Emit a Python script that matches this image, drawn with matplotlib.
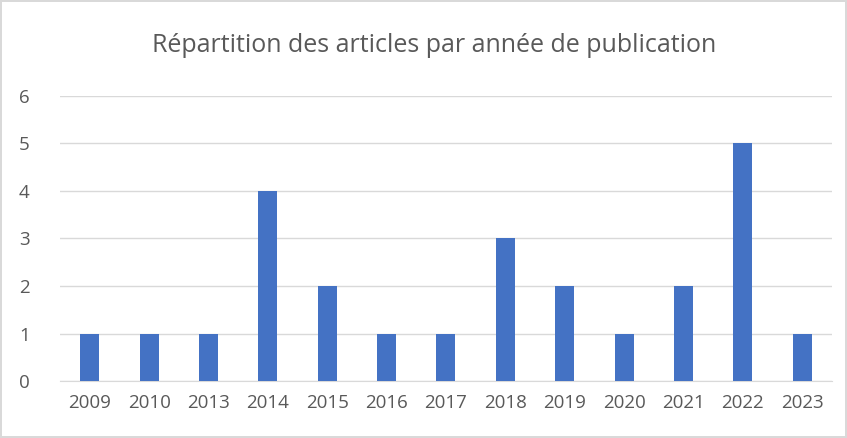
import matplotlib.pyplot as plt
import numpy as np

years = ['2009', '2010', '2013', '2014', '2015', '2016', '2017', '2018', '2019', '2020', '2021', '2022', '2023']
counts = [1, 1, 1, 4, 2, 1, 1, 3, 2, 1, 2, 5, 1]

plt.rcParams['font.family'] = ['Open Sans', 'DejaVu Sans']

fig = plt.figure(figsize=(8.47, 4.38), dpi=100)
fig.patch.set_edgecolor('#d9d9d9')
fig.patch.set_linewidth(1.5)
ax = fig.add_axes([0.071, 0.130, 0.911, 0.651])

x = np.arange(len(years))
ax.bar(x, counts, width=0.32, color='#4472C4', zorder=3)
ax.set_xlim(-0.5, len(years) - 0.5)
ax.set_ylim(0, 6)
ax.set_yticks(range(0, 7))
ax.set_xticks(x)
ax.set_xticklabels(years)
ax.grid(axis='y', color='#d9d9d9', linewidth=1, zorder=0)
for s in ['top', 'right', 'left']:
    ax.spines[s].set_visible(False)
ax.spines['bottom'].set_color('#d9d9d9')
ax.tick_params(length=0, labelsize=13.5, colors='#595959', pad=9)
ax.tick_params(axis='y', pad=22)

fig.text(0.513, 0.897, 'Répartition des articles par année de publication',
         ha='center', va='center', fontsize=18, color='#595959')

fig.savefig('out.png', dpi=100)
